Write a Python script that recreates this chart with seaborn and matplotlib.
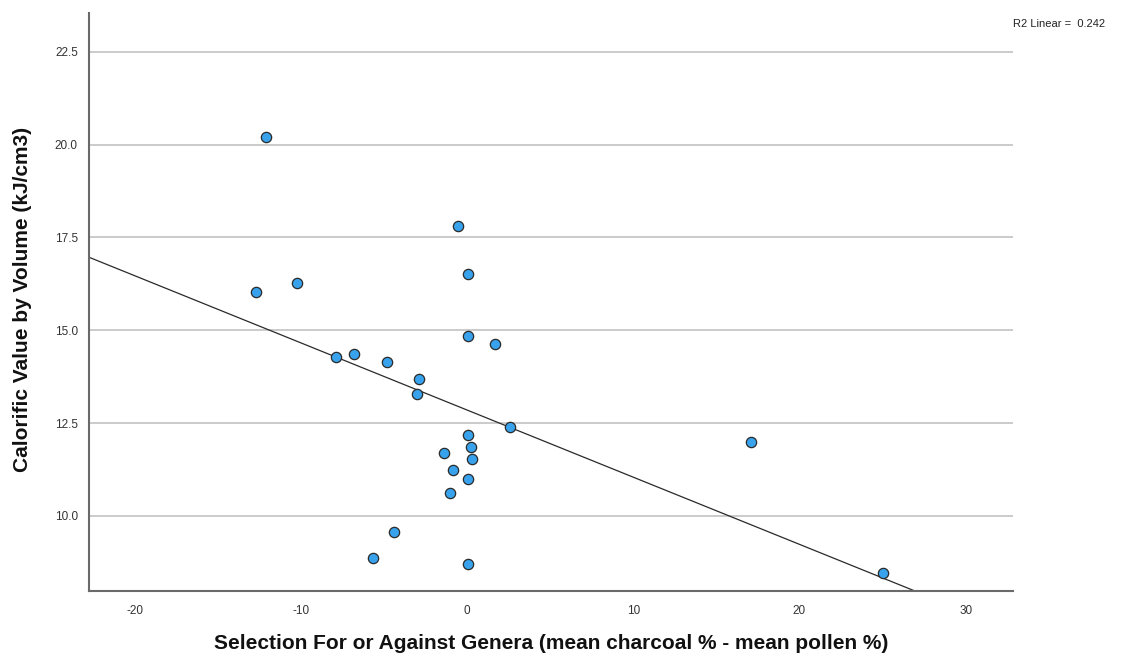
import matplotlib
matplotlib.use("Agg")
import matplotlib.pyplot as plt
import seaborn as sns
import pandas as pd
from matplotlib import font_manager

# Selection index (mean charcoal % - mean pollen %) per genus
selection = [-12.11, -12.70, -10.21, -7.88, -6.80, -4.80, -2.89, -2.99,
             -0.52, 0.06, 0.06, 1.70, 2.59, 0.08, 0.22, 0.28, -1.37,
             -0.86, 0.08, -1.02, -4.39, -5.68, 0.06, 17.09, 25.05]
# Calorific value by volume (kJ/cm3) per genus
calorific = [20.20, 16.03, 16.28, 14.28, 14.37, 14.14, 13.68, 13.28,
             17.80, 16.51, 14.84, 14.64, 12.40, 12.18, 11.86, 11.53, 11.70,
             11.25, 10.99, 10.63, 9.58, 8.87, 8.72, 12.00, 8.46]

x_ticks = [-20, -10, 0, 10, 20, 30]
y_ticks = [10.0, 12.5, 15.0, 17.5, 20.0, 22.5]
r2_text = "R2 Linear =  0.242"

df = pd.DataFrame({"selection": selection, "calorific": calorific})

sns.set_theme(style="white")
installed = {f.name for f in font_manager.fontManager.ttflist}
label_family = ["Liberation Sans Narrow"] if "Liberation Sans Narrow" in installed else ["Liberation Sans"]
plt.rcParams["font.family"] = ["Liberation Sans", "DejaVu Sans"]

fig = plt.figure(figsize=(11.41, 6.58), dpi=100)
ax = fig.add_axes([0.078, 0.1018, 0.8098, 0.8789])

ax.set_xlim(-22.74, 32.85)
ax.set_ylim(7.98, 23.55)

# horizontal reference lines
for yv in y_ticks:
    ax.axhline(yv, color="#bdbdbd", lw=1.1, zorder=0)

sns.regplot(data=df, x="selection", y="calorific", ax=ax, ci=None,
            truncate=False,
            scatter_kws=dict(s=55, color="#38a2ec", edgecolor="#2a2a2a",
                             linewidths=0.9, alpha=1, zorder=3),
            line_kws=dict(color="#2a2a2a", lw=0.9, zorder=2))

ax.set_xticks(x_ticks)
ax.set_xticklabels([str(t) for t in x_ticks])
ax.set_yticks(y_ticks)
ax.set_yticklabels([f"{t:.1f}" for t in y_ticks])
ax.tick_params(axis="both", length=0, labelsize=8.5, colors="#333333")
ax.tick_params(axis="x", pad=10)
ax.tick_params(axis="y", pad=8)

for side in ("top", "right"):
    ax.spines[side].set_visible(False)
for side in ("left", "bottom"):
    ax.spines[side].set_color("#6a6a6a")
    ax.spines[side].set_linewidth(1.5)

ax.set_xlabel("Selection For or Against Genera (mean charcoal % - mean pollen %)",
              fontsize=15, fontweight="bold", family=label_family,
              color="#111111")
ax.set_ylabel("Calorific Value by Volume (kJ/cm3)",
              fontsize=15, fontweight="bold", family=label_family,
              color="#111111")
ax.xaxis.set_label_coords(0.5, -0.075)
ax.yaxis.set_label_coords(-0.062, 0.505)

fig.text(0.888, 0.963, r2_text, fontsize=8, color="#222222", ha="left", va="center")

fig.savefig("out.png", dpi=100, facecolor="white")
